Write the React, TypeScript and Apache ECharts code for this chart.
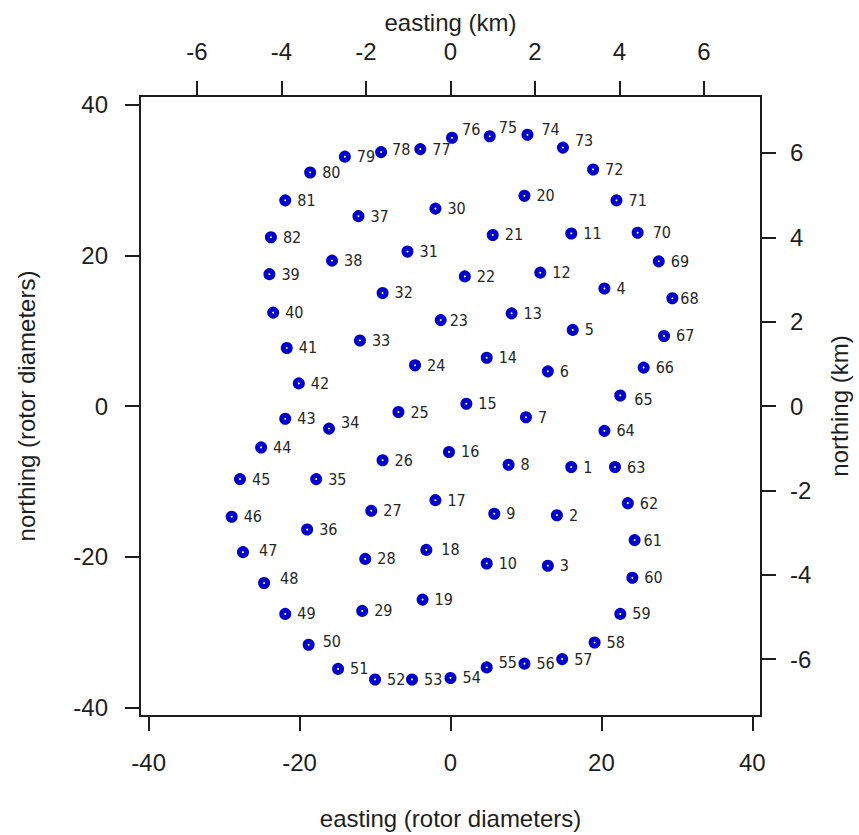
import React, { useEffect, useRef } from "react";
import * as echarts from "echarts";

// Turbine numbers and positions (in rotor diameters)
const turbineIds = [
  1, 2, 3, 4, 5, 6, 7, 8, 9, 10,
  11, 12, 13, 14, 15, 16, 17, 18, 19, 20,
  21, 22, 23, 24, 25, 26, 27, 28, 29, 30,
  31, 32, 33, 34, 35, 36, 37, 38, 39, 40,
  41, 42, 43, 44, 45, 46, 47, 48, 49, 50,
  51, 52, 53, 54, 55, 56, 57, 58, 59, 60,
  61, 62, 63, 64, 65, 66, 67, 68, 69, 70,
  71, 72, 73, 74, 75, 76, 77, 78, 79, 80,
  81, 82,
];

const eastingRD = [
  16.0, 14.1, 12.9, 20.4, 16.2, 12.9, 10.0, 7.7, 5.8, 4.8,
  16.0, 11.9, 8.1, 4.8, 2.1, -0.2, -2.0, -3.2, -3.7, 9.8,
  5.6, 1.9, -1.3, -4.7, -6.9, -9.0, -10.5, -11.3, -11.7, -2.0,
  -5.7, -9.0, -12.0, -16.1, -17.8, -19.0, -12.2, -15.7, -24.0, -23.5,
  -21.7, -20.1, -21.9, -25.1, -27.9, -29.0, -27.5, -24.7, -21.9, -18.8,
  -14.9, -10.0, -5.1, 0.0, 4.8, 9.8, 14.8, 19.1, 22.5, 24.1,
  24.4, 23.5, 21.8, 20.4, 22.5, 25.6, 28.3, 29.4, 27.6, 24.8,
  22.0, 18.9, 14.9, 10.2, 5.2, 0.2, -4.0, -9.2, -14.0, -18.6,
  -21.9, -23.8,
];

const northingRD = [
  -8.1, -14.5, -21.2, 15.6, 10.1, 4.6, -1.5, -7.8, -14.3, -20.9,
  22.9, 17.7, 12.3, 6.4, 0.3, -6.1, -12.5, -19.1, -25.7, 27.9,
  22.7, 17.2, 11.4, 5.4, -0.8, -7.2, -13.9, -20.3, -27.2, 26.2,
  20.5, 15.0, 8.7, -3.0, -9.7, -16.4, 25.2, 19.3, 17.5, 12.4,
  7.7, 3.0, -1.7, -5.5, -9.7, -14.7, -19.4, -23.5, -27.6, -31.7,
  -34.9, -36.3, -36.3, -36.1, -34.7, -34.2, -33.6, -31.4, -27.6, -22.8,
  -17.8, -12.9, -8.1, -3.3, 1.4, 5.1, 9.3, 14.3, 19.2, 23.0,
  27.3, 31.4, 34.3, 36.0, 35.8, 35.6, 34.1, 33.7, 33.1, 31.0,
  27.3, 22.4,
];

const rdTicks = [-40, -20, 0, 20, 40];
const kmTicks = [-6, -4, -2, 0, 2, 4, 6];

const RD_LIMIT = 41.15;
const KM_PER_RD = 0.1786;
const KM_LIMIT = RD_LIMIT * KM_PER_RD;

// small label placement nudges (pixels), as in the reference
const labelNudge: Record<number, [number, number]> = {
  76: [-2, -8],
  75: [-3, -9],
  74: [2, -5],
  73: [0, -7],
  34: [0, -6],
  55: [0, -5],
  48: [4, -5],
  65: [2, 4],
  47: [4, -2],
  18: [3, 0],
  70: [3, 0],
  68: [-4, 0],
  23: [-3, 0],
  61: [-3, 0],
  50: [2, -3],
  78: [-1, -3],
};

const AXIS_FONT = "'Liberation Sans', Arial, sans-serif";
const LABEL_FONT = "'DejaVu Sans Condensed', 'DejaVu Sans', sans-serif";
const INK = "#1e1e1e";
const BLUE = "#0000c8";

function makeAxis(opts: {
  position: string;
  min: number;
  max: number;
  ticks: number[];
  name: string;
  nameGap: number;
  labelMargin: number;
  nameRotate?: number;
}) {
  return {
    type: "value",
    position: opts.position,
    min: opts.min,
    max: opts.max,
    name: opts.name,
    nameLocation: "middle",
    nameGap: opts.nameGap,
    nameRotate: opts.nameRotate,
    nameTextStyle: {
      fontSize: 24,
      lineHeight: 24,
      fontFamily: AXIS_FONT,
      color: INK,
    },
    axisLine: {
      show: true,
      onZero: false,
      lineStyle: { color: INK, width: 2 },
    },
    axisTick: {
      show: true,
      inside: false,
      length: 15,
      customValues: opts.ticks,
      lineStyle: { color: INK, width: 2 },
    },
    axisLabel: {
      show: true,
      customValues: opts.ticks,
      margin: opts.labelMargin,
      fontSize: 24,
      lineHeight: 24,
      fontFamily: AXIS_FONT,
      color: INK,
    },
    splitLine: { show: false },
    axisPointer: { show: false },
  };
}

export default function App() {
  const ref = useRef<HTMLDivElement>(null);

  useEffect(() => {
    if (!ref.current) return;
    const chart = echarts.init(ref.current, null, { renderer: "svg" });

    const points = turbineIds.map((id, i) => {
      const nudge = labelNudge[id];
      const item: any = {
        name: String(id),
        value: [eastingRD[i], northingRD[i]],
      };
      if (nudge) item.label = { offset: nudge };
      return item;
    });

    chart.setOption({
      animation: false,
      backgroundColor: "#ffffff",
      grid: { left: 140, top: 96, right: 96, bottom: 115, containLabel: false },
      xAxis: [
        makeAxis({
          position: "bottom",
          min: -RD_LIMIT,
          max: RD_LIMIT,
          ticks: rdTicks,
          name: "easting (rotor diameters)",
          nameGap: 90,
          labelMargin: 34,
        }),
        makeAxis({
          position: "top",
          min: -KM_LIMIT,
          max: KM_LIMIT,
          ticks: kmTicks,
          name: "easting (km)",
          nameGap: 62,
          labelMargin: 33,
        }),
      ],
      yAxis: [
        makeAxis({
          position: "left",
          min: -RD_LIMIT,
          max: RD_LIMIT,
          ticks: rdTicks,
          name: "northing (rotor diameters)",
          nameGap: 102,
          labelMargin: 32,
          nameRotate: 90,
        }),
        makeAxis({
          position: "right",
          min: -KM_LIMIT,
          max: KM_LIMIT,
          ticks: kmTicks,
          name: "northing (km)",
          nameGap: 66,
          labelMargin: 29,
          nameRotate: 90,
        }),
      ],
      series: [
        {
          type: "scatter",
          xAxisIndex: 0,
          yAxisIndex: 0,
          data: points,
          symbol: "circle",
          symbolSize: 7,
          itemStyle: {
            color: "#ffffff",
            borderColor: BLUE,
            borderWidth: 5,
            opacity: 1,
          },
          label: {
            show: true,
            position: "right",
            distance: 6,
            formatter: "{b}",
            fontSize: 16,
            fontFamily: LABEL_FONT,
            color: "#262626",
          },
          emphasis: { disabled: true },
        },
      ],
    });

    return () => {
      chart.dispose();
    };
  }, []);

  return (
    <div
      ref={ref}
      style={{
        position: "fixed",
        left: 0,
        top: 0,
        width: 859,
        height: 835,
        background: "#ffffff",
      }}
    />
  );
}
